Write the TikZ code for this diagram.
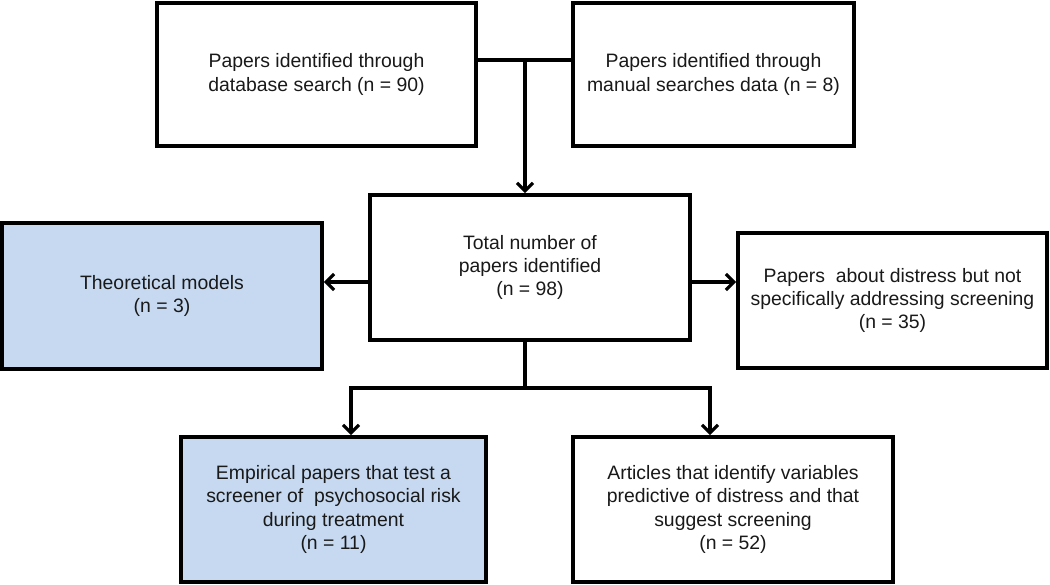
\documentclass[tikz,border=0pt]{standalone}
\usepackage{fontspec}
\setmainfont{Liberation Sans}
\usetikzlibrary{arrows.meta}
\definecolor{boxblue}{RGB}{198,217,240}
\definecolor{txt}{RGB}{25,25,25}
\tikzset{
  box/.style={draw=black, line width=3.6pt, fill=white, align=center, inner sep=0pt,
    text=txt, font=\fontsize{19.4}{23.2}\selectfont},
  bluebox/.style={box, fill=boxblue},
  conn/.style={line width=3.2pt},
  arr/.style={conn, -{Straight Barb[length=8pt,width=16pt,line width=3.2pt]}}
}
\begin{document}
\begin{tikzpicture}[x=1pt,y=-1pt]
\useasboundingbox (0,0) rectangle (1050,584);
\node[box, minimum width=319pt, minimum height=143pt] (db) at (316.5,74.5)
  {Papers identified through\\database search (n = 90)};
\node[box, minimum width=281pt, minimum height=143pt] (man) at (713.5,74.5)
  {Papers identified through\\manual searches data (n = 8)};
\node[box, minimum width=320pt, minimum height=145pt] (tot) at (530,267.5)
  {Total number of\\papers identified\\(n = 98)};
\node[bluebox, minimum width=320pt, minimum height=146pt] (theo) at (162,296)
  {Theoretical models\\(n = 3)};
\node[box, minimum width=309pt, minimum height=135pt] (dist) at (892.5,300.5)
  {Papers~ about distress but not\\specifically addressing screening\\(n = 35)};
\node[bluebox, minimum width=305pt, minimum height=145pt] (emp) at (333.5,509.5)
  {Empirical papers that test a\\screener of~ psychosocial risk\\during treatment\\(n = 11)};
\node[box, minimum width=320pt, minimum height=145pt] (art) at (733,509.5)
  {Articles that identify variables\\predictive of distress and that\\suggest screening\\(n = 52)};
\coordinate (j1) at (525,60);
\coordinate (m) at (0,282);
\coordinate (j2) at (525,388);
\coordinate (bl) at (351,388);
\coordinate (br) at (710,388);
\draw[conn] (db.east|-j1) -- (man.west|-j1);
\draw[arr] (j1) -- (j1|-tot.north);
\draw[arr] (tot.west|-m) -- (theo.east|-m);
\draw[arr] (tot.east|-m) -- (dist.west|-m);
\draw[conn] (j2|-tot.south) -- (j2);
\draw[conn, line cap=rect] (bl) -- (br);
\draw[arr] (bl) -- (bl|-emp.north);
\draw[arr] (br) -- (br|-art.north);
\end{tikzpicture}
\end{document}
